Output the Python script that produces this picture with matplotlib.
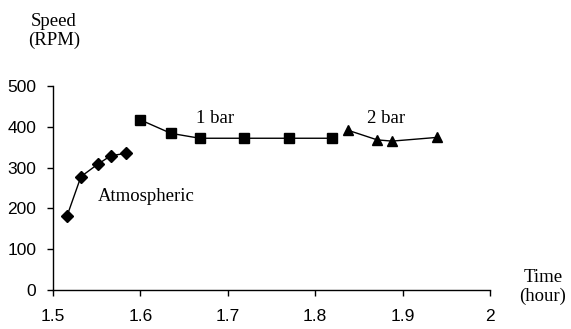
import matplotlib
matplotlib.use("Agg")
import matplotlib.pyplot as plt

# speed readings at each pressure stage
atm_time = [1.516, 1.532, 1.551, 1.566, 1.583]
atm_speed = [181, 278, 308, 329, 335]

bar1_time = [1.600, 1.635, 1.668, 1.719, 1.770, 1.819]
bar1_speed = [417, 384, 372, 372, 372, 372]

bar2_time = [1.837, 1.871, 1.888, 1.939]
bar2_speed = [392, 368, 365, 374]

x_ticks = [1.5, 1.6, 1.7, 1.8, 1.9, 2.0]
x_labels = ["1.5", "1.6", "1.7", "1.8", "1.9", "2"]
y_ticks = [0, 100, 200, 300, 400, 500]

serif = "Liberation Serif"
sans = "Liberation Sans"

fig = plt.figure(figsize=(5.71, 3.29), dpi=100)
ax = fig.add_axes([0.0928, 0.1185, 0.7653, 0.620])

ax.plot(atm_time, atm_speed, color="black", lw=1, marker="D", ms=6)
ax.plot(bar1_time, bar1_speed, color="black", lw=1, marker="s", ms=6.5)
ax.plot(bar2_time, bar2_speed, color="black", lw=1, marker="^", ms=7)

ax.set_xlim(1.5, 2.0)
ax.set_ylim(0, 500)
ax.set_xticks(x_ticks)
ax.set_xticklabels(x_labels, fontfamily=sans, fontsize=12.5)
ax.set_yticks(y_ticks)
ax.set_yticklabels([str(v) for v in y_ticks], fontfamily=sans, fontsize=12.5)
ax.tick_params(direction="out", length=4, width=1)
ax.tick_params(axis="x", pad=10)
ax.tick_params(axis="y", pad=8)

for side in ("top", "right"):
    ax.spines[side].set_visible(False)
for side in ("left", "bottom"):
    ax.spines[side].set_linewidth(1)

ax.text(1.5515, 218, "Atmospheric", fontfamily=serif, fontsize=13.5, va="baseline")
ax.text(1.664, 409, "1 bar", fontfamily=serif, fontsize=13.5, va="baseline")
ax.text(1.859, 409, "2 bar", fontfamily=serif, fontsize=13.5, va="baseline")

fig.text(0.0946, 0.905, "Speed\n(RPM)", fontfamily=serif, fontsize=13.5,
         ha="center", va="center", linespacing=1.15)
fig.text(0.951, 0.128, "Time\n(hour)", fontfamily=serif, fontsize=13.5,
         ha="center", va="center", linespacing=1.15)

fig.savefig("out.png", dpi=100)
